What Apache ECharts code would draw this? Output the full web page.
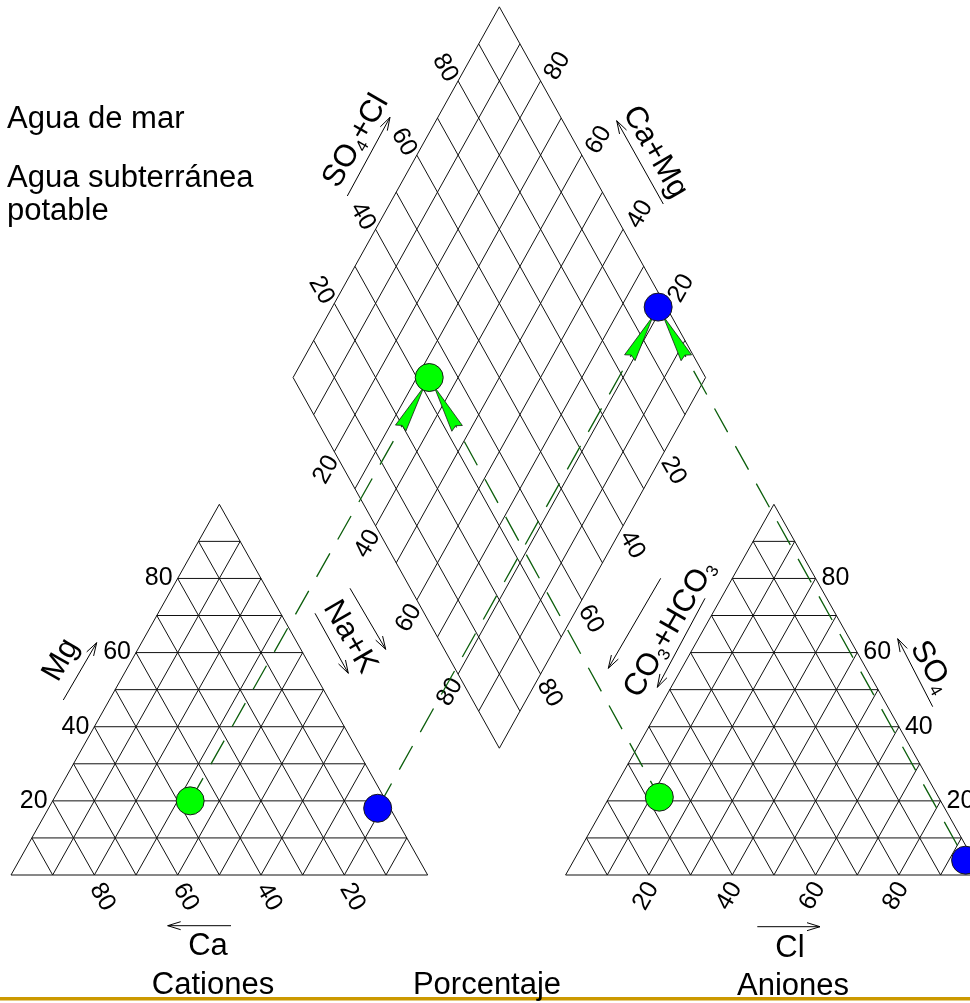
<!DOCTYPE html>
<html><head><meta charset="utf-8">
<script src="https://cdn.jsdelivr.net/npm/echarts@6/dist/echarts.min.js"></script>
<style>html,body{margin:0;padding:0;background:#fff}#c{width:970px;height:1003px}</style>
</head><body><div id="c"></div>
<script>
// ---------------- DATA ----------------
const samples = ['Agua de mar', 'Agua subterránea potable'];
const sampleColors = ['#0000FF', '#00FF00'];
// cations (% meq)
const catCa  = [3, 47];
const catMg  = [18, 20];
const catNaK = [79, 33];
// anions (% meq)
const anHCO3 = [2, 67];
const anSO4  = [4, 21];
const anCl   = [94, 12];
// grid levels and tick labels
const gridLevels = [0, 10, 20, 30, 40, 50, 60, 70, 80, 90, 100];
const tickLabels = [20, 40, 60, 80];

// ---------------- GEOMETRY ----------------
const SX = 4.1667, SY = 3.707;           // px per unit
const XMAX = 230, YMAX = 236;
const AOFF = 133.1;                       // anion triangle offset
const DB = [117.2, 34.2], K = 0.495;      // diamond bottom vertex, half-slope
function catXY(ca, mg, nak) { return [nak + mg / 2, mg]; }
function anXY(hco3, so4, cl) { return [AOFF + cl + so4 / 2, so4]; }
function diaXY(a, b) { return [DB[0] + (b - a) * K, DB[1] + a + b]; }

const FONT = '"Liberation Sans", Arial, Helvetica, sans-serif';

// grid segments
const segs = [];
function add(p, q) { segs.push([p[0], p[1], q[0], q[1]]); }
gridLevels.forEach(v => {
  if (v < 100) {
    add(catXY(100 - v, v, 0), catXY(0, v, 100 - v));
    add(catXY(v, 0, 100 - v), catXY(v, 100 - v, 0));
    add(catXY(100 - v, 0, v), catXY(0, 100 - v, v));
    add(anXY(100 - v, v, 0), anXY(0, v, 100 - v));
    add(anXY(v, 0, 100 - v), anXY(v, 100 - v, 0));
    add(anXY(100 - v, 0, v), anXY(0, 100 - v, v));
  }
  add(diaXY(v, 0), diaXY(v, 100));
  add(diaXY(0, v), diaXY(100, v));
});

// tick labels
const R60 = Math.PI / 3;
const tickKinds = [
  { rot: -R60, dx: 8, dy: 22, align: 'center' },   // cation base (Ca)
  { rot: 0, dx: -5, dy: 0, align: 'right' },       // cation left (Mg)
  { rot: R60, dx: -3, dy: 21, align: 'center' },   // anion base (Cl)
  { rot: 0, dx: 6, dy: 0, align: 'left' },         // anion right (SO4)
  { rot: -R60, dx: -13, dy: -13, align: 'center' },// diamond UL (SO4+Cl)
  { rot: R60, dx: 17, dy: -15, align: 'center' },  // diamond UR (Ca+Mg)
  { rot: R60, dx: -8, dy: 18, align: 'center' },   // diamond LL (Na+K)
  { rot: -R60, dx: 9, dy: 19, align: 'center' }    // diamond LR (CO3+HCO3)
];
const tickData = [];
tickLabels.forEach(v => {
  tickData.push([...catXY(v, 0, 100 - v), v, 0]);
  tickData.push([...catXY(100 - v, v, 0), v, 1]);
  tickData.push([...anXY(100 - v, 0, v), v, 2]);
  tickData.push([...anXY(0, v, 100 - v), v, 3]);
  tickData.push([...diaXY(100, v), v, 4]);
  tickData.push([...diaXY(v, 100), v, 5]);
  tickData.push([...diaXY(100 - v, 0), v, 6]);
  tickData.push([...diaXY(0, 100 - v), v, 7]);
});

const series = [];
series.push({
  type: 'custom', silent: true, clip: false, z: 1,
  data: segs, encode: { x: [0, 2], y: [1, 3] },
  renderItem(params, api) {
    const p = api.coord([api.value(0), api.value(1)]);
    const q = api.coord([api.value(2), api.value(3)]);
    return { type: 'line', shape: { x1: p[0], y1: p[1], x2: q[0], y2: q[1] },
      style: { stroke: '#111', lineWidth: 1 } };
  }
});
series.push({
  type: 'custom', silent: true, clip: false, z: 2,
  data: tickData, encode: { x: 0, y: 1 },
  renderItem(params, api) {
    const p = api.coord([api.value(0), api.value(1)]);
    const k = tickKinds[api.value(3)];
    return { type: 'text', x: p[0] + k.dx, y: p[1] + k.dy, rotation: k.rot,
      style: { text: String(api.value(2)), x: 0, y: 0, align: k.align, verticalAlign: 'middle',
        font: '25px ' + FONT, fill: '#000' } };
  }
});

samples.forEach((name, i) => {
  const c = catXY(catCa[i], catMg[i], catNaK[i]);
  const a = anXY(anHCO3[i], anSO4[i], anCl[i]);
  const d = diaXY(catCa[i] + catMg[i], anSO4[i] + anCl[i]);
  series.push({
    type: 'custom', silent: true, clip: false, z: 3,
    data: [[d[0], d[1], c[0], c[1]], [d[0], d[1], a[0], a[1]]],
    encode: { x: [0, 2], y: [1, 3] },
    renderItem(params, api) {
      const p = api.coord([api.value(0), api.value(1)]);
      const q = api.coord([api.value(2), api.value(3)]);
      const dx = q[0] - p[0], dy = q[1] - p[1], L = Math.hypot(dx, dy);
      const ux = dx / L, uy = dy / L, nx = -uy, ny = ux;
      const at = (s, w) => [p[0] + ux * s + nx * w, p[1] + uy * s + ny * w];
      return { type: 'group', children: [
        { type: 'line', shape: { x1: p[0], y1: p[1], x2: q[0], y2: q[1] },
          style: { stroke: '#0b5e0b', lineWidth: 1.3, lineDash: [27, 16], lineDashOffset: -30 } },
        { type: 'polygon', shape: { points: [at(10, 0), at(58, 6), at(55, 0), at(58, -6)] },
          style: { fill: '#00FF00', stroke: '#1a1a1a', lineWidth: 0.8 } }
      ] };
    }
  });
  series.push({
    type: 'scatter', name: name, z: 5, symbol: 'circle', symbolSize: 28,
    data: [c, a, d], silent: true, clip: false,
    itemStyle: { color: sampleColors[i], borderColor: '#1a1a1a', borderWidth: 1, opacity: 1 }
  });
});

// ---------------- ANNOTATIONS ----------------
function arrow(x1, y1, x2, y2) {
  const dx = x2 - x1, dy = y2 - y1, L = Math.hypot(dx, dy);
  const ux = dx / L, uy = dy / L, hl = 13, hw = 4;
  return [
    { type: 'line', shape: { x1, y1, x2, y2 }, style: { stroke: '#000', lineWidth: 1 } },
    { type: 'polyline', shape: { points: [
      [x2 - ux * hl - uy * hw, y2 - uy * hl + ux * hw], [x2, y2],
      [x2 - ux * hl + uy * hw, y2 - uy * hl - ux * hw]] },
      style: { stroke: '#000', lineWidth: 1, fill: null } }
  ];
}
const rich = {
  a: { fontSize: 31, fontFamily: FONT, lineHeight: 34, fill: '#000' },
  s: { fontSize: 17, fontFamily: FONT, lineHeight: 34, verticalAlign: 'bottom', fill: '#000' }
};
function title(text, x, y, rot) {
  return { type: 'text', x, y, rotation: rot, z: 10,
    style: { text, x: 0, y: 0, align: 'center', verticalAlign: 'middle', rich, font: '31px ' + FONT, fill: '#000' } };
}
function plain(text, x, y, size, align, va) {
  return { type: 'text', x, y, z: 10,
    style: { text, x: 0, y: 0, align: align || 'center', verticalAlign: va || 'middle',
      font: size + 'px ' + FONT, fill: '#000' } };
}

const graphic = [
  { type: 'rect', shape: { x: 0, y: 997, width: 970, height: 3.5 }, style: { fill: '#CC9900' }, z: 0 },
  plain(samples[0], 7, 119.5, 31, 'left'),
  { type: 'text', x: 7, y: 162, z: 10,
    style: { text: samples[1], width: 270, overflow: 'break', lineHeight: 33, x: 0, y: 0,
      align: 'left', verticalAlign: 'top', font: '31px ' + FONT, fill: '#000' } },
  plain('Cationes', 213, 985, 31),
  plain('Porcentaje', 487, 985, 31),
  plain('Aniones', 793, 986, 31),
  title('{a|Ca}', 208, 946, 0),
  title('{a|Cl}', 790, 948, 0),
  title('{a|Mg}', 61, 660, R60),
  title('{a|Na+K}', 350, 637, -R60),
  title('{a|CO}{s|3}{a|+HCO}{s|3}', 670, 629, R60),
  title('{a|SO}{s|4}', 931, 667, -R60),
  title('{a|SO}{s|4}{a|+Cl}', 356, 141, R60),
  title('{a|Ca+Mg}', 655, 152, -R60),
  ...arrow(63.3, 700, 96.7, 642.7),
  ...arrow(231, 925.7, 167.7, 925.7),
  ...arrow(315, 613.3, 348.3, 673.3),
  ...arrow(350, 588.3, 385.7, 649.3),
  ...arrow(660.7, 578.3, 608.3, 668.3),
  ...arrow(705, 598.3, 657.3, 687.3),
  ...arrow(932.7, 706.7, 897.7, 638.7),
  ...arrow(757.3, 926.7, 820, 926.7),
  ...arrow(347.3, 196, 390, 117.3),
  ...arrow(663.3, 204, 616.7, 120.7)
];

const chart = echarts.init(document.getElementById('c'));
chart.setOption({
  animation: false,
  backgroundColor: '#fff',
  grid: { left: 11, top: 875 - YMAX * SY, width: XMAX * SX, height: YMAX * SY },
  xAxis: { type: 'value', min: 0, max: XMAX, show: false },
  yAxis: { type: 'value', min: 0, max: YMAX, show: false },
  series: series,
  graphic: graphic
});
</script></body></html>
